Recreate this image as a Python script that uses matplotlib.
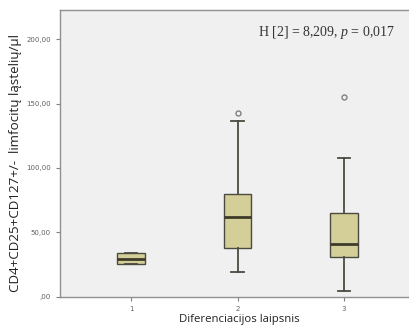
import matplotlib
matplotlib.use("Agg")
import matplotlib.pyplot as plt
from matplotlib.ticker import FuncFormatter

plt.rcParams["mathtext.fontset"] = "custom"
plt.rcParams["mathtext.rm"] = "Liberation Serif"
plt.rcParams["mathtext.it"] = "Liberation Serif:italic"

categories = ["1", "2", "3"]
q1 = [25.2, 38.0, 30.8]
median = [29.3, 62.1, 41.1]
q3 = [33.7, 79.5, 64.7]
whislo = [25.2, 19.4, 4.2]
whishi = [33.7, 136.4, 107.5]
outliers = [[], [142.4], [155.3]]
yticks = [0, 50, 100, 150, 200]

stats = []
for i, c in enumerate(categories):
    stats.append(dict(label=c, q1=q1[i], med=median[i], q3=q3[i],
                      whislo=whislo[i], whishi=whishi[i], fliers=outliers[i]))

fig = plt.figure(figsize=(4.10, 3.29), dpi=100)
ax = fig.add_axes([60/410, 1 - 296.7/329, 350/410, (296.7 - 10)/329])
ax.set_facecolor("#f0f0f0")

edge = "#4a4a40"
ax.bxp(stats, positions=[1, 2, 3], widths=0.255, patch_artist=True,
       boxprops=dict(facecolor="#d4cf98", edgecolor=edge, linewidth=1.0),
       medianprops=dict(color="#3d3a2a", linewidth=2.0),
       whiskerprops=dict(color=edge, linewidth=1.3),
       capprops=dict(color=edge, linewidth=1.3),
       capwidths=0.12,
       flierprops=dict(marker="o", markerfacecolor="none", markeredgecolor="#808080",
                       markersize=3.6, markeredgewidth=1.0))

ax.set_xlim(0.333, 3.62)
ax.set_ylim(0, 222.6)
ax.set_yticks(yticks)
ax.yaxis.set_major_formatter(FuncFormatter(lambda v, p: (",00" if v == 0 else f"{v:.2f}".replace(".", ","))))
ax.set_xticks([1, 2, 3])
ax.set_xticklabels(categories)
ax.tick_params(axis="both", labelsize=5, colors="#808080", labelcolor="#606060", length=3, width=0.8)

for s in ["left", "bottom", "top"]:
    ax.spines[s].set_color("#909090")
    ax.spines[s].set_linewidth(1.0)
ax.spines["right"].set_visible(False)

ax.set_ylabel("CD4+CD25+CD127+/-  limfocitų ląstelių/μl", fontsize=9.6, family="Open Sans", color="#222222")
ax.yaxis.set_label_coords(-0.108, 0.466)
ax.set_xlabel("Diferenciacijos laipsnis", fontsize=8.2, family="Open Sans", color="#222222")
ax.xaxis.set_label_coords(0.511, -0.062)

ax.text(0.957, 0.92, "H [2] = 8,209, $\\it{p}$ = $\\it{0{,}017}$", transform=ax.transAxes,
        ha="right", va="center", fontsize=10, family="Liberation Serif", color="#333333")

fig.savefig("out.png", dpi=100)
